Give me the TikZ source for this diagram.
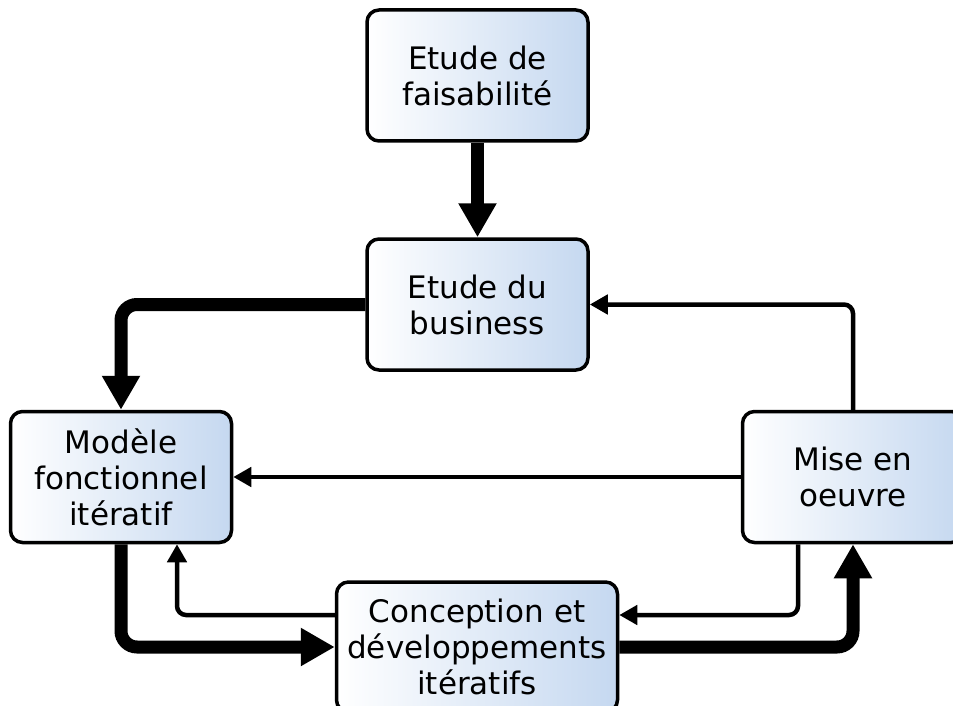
\documentclass[tikz,border=0pt]{standalone}
\usepackage{fontspec}
\setmainfont{DejaVu Sans}
\usetikzlibrary{arrows.meta}
\definecolor{boxblue}{RGB}{197,216,240}
\begin{document}
\begin{tikzpicture}[x=1pt,y=-1pt,
  phase/.style={draw=black, line width=3.5pt, rounded corners=12pt,
    left color=white, right color=boxblue,
    minimum width=221pt, minimum height=131pt, inner sep=0pt,
    align=center, font=\fontsize{31}{36}\selectfont},
  mainflow/.style={line width=13pt, rounded corners=16pt,
    -{Triangle[length=34pt,width=36pt]}},
  backflow/.style={line width=4.5pt, rounded corners=9pt,
    -{Triangle[length=18pt,width=19pt]}}]
\useasboundingbox (0,0) rectangle (953,706);
\clip (0,0) rectangle (953,706);

% phases of the cycle
\node[phase] (fais) at (477.5,75.5) {Etude de\\faisabilité};
\node[phase] (bus)  at (477.5,304.5) {Etude du\\business};
\node[phase] (mod)  at (121,477) {Modèle\\fonctionnel\\itératif};
\node[phase] (mise) at (853,477) {Mise en\\oeuvre};
\node[phase, minimum width=281pt, minimum height=130pt] (conc) at (477,647)
  {Conception et\\développements\\itératifs};

% main path through the phases
\draw[mainflow] (fais) -- (bus);
\draw[mainflow] (bus.west) -| (mod.north);
\draw[mainflow] (mod.south) |- (conc.west);
\draw[mainflow] (conc.east) -| (mise.south);

% feedback loops
\draw[backflow] ([yshift=32pt]conc.west) -| ([xshift=56pt]mod.south);
\draw[backflow] ([xshift=-55pt]mise.south) |- ([yshift=32pt]conc.east);
\draw[backflow] (mise.north) |- (bus.east);
\draw[backflow] (mise.west) -- (mod.east);
\end{tikzpicture}
\end{document}
